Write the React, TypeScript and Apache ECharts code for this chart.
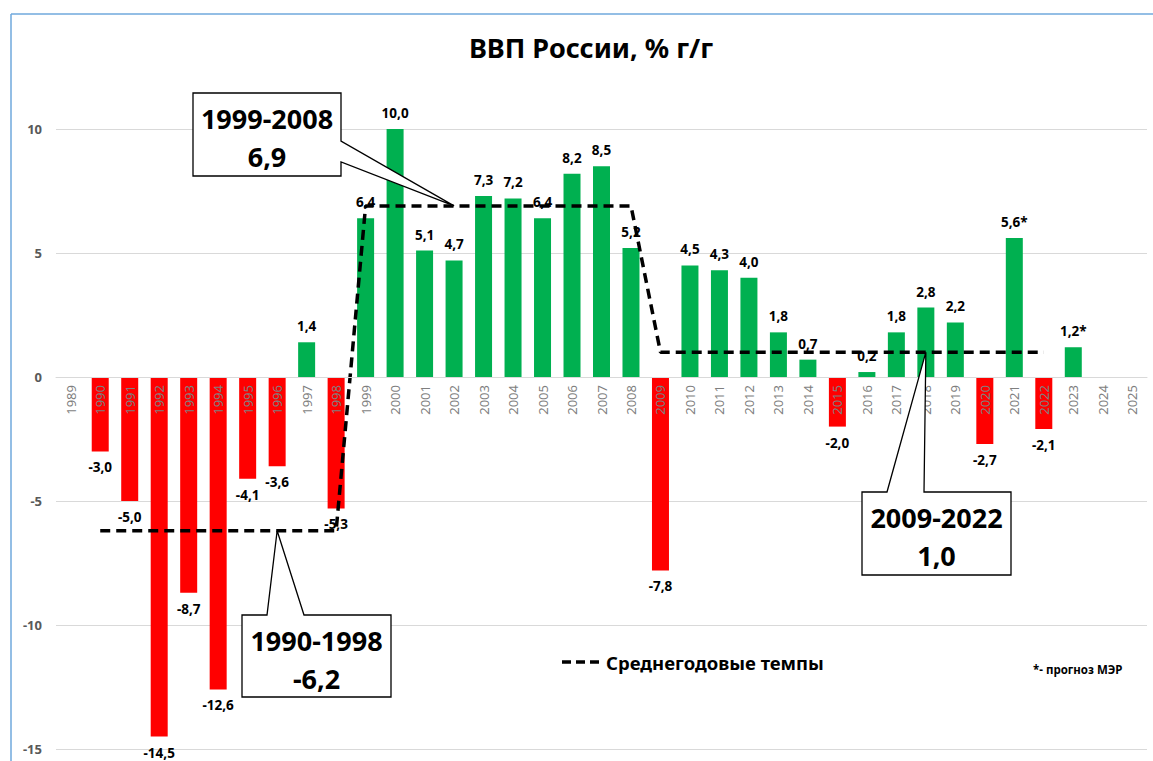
import React, { useEffect, useRef } from "react";
import * as echarts from "echarts";

const years = [
  "1989", "1990", "1991", "1992", "1993", "1994", "1995", "1996", "1997", "1998",
  "1999", "2000", "2001", "2002", "2003", "2004", "2005", "2006", "2007", "2008",
  "2009", "2010", "2011", "2012", "2013", "2014", "2015", "2016", "2017", "2018",
  "2019", "2020", "2021", "2022", "2023", "2024", "2025",
];

const gdpGrowth: (number | null)[] = [
  null, -3.0, -5.0, -14.5, -8.7, -12.6, -4.1, -3.6, 1.4, -5.3,
  6.4, 10.0, 5.1, 4.7, 7.3, 7.2, 6.4, 8.2, 8.5, 5.2,
  -7.8, 4.5, 4.3, 4.0, 1.8, 0.7, -2.0, 0.2, 1.8, 2.8,
  2.2, -2.7, 5.6, -2.1, 1.2, null, null,
];

const averageGrowth: (number | null)[] = [
  null, -6.2, -6.2, -6.2, -6.2, -6.2, -6.2, -6.2, -6.2, -6.2,
  6.9, 6.9, 6.9, 6.9, 6.9, 6.9, 6.9, 6.9, 6.9, 6.9,
  1.0, 1.0, 1.0, 1.0, 1.0, 1.0, 1.0, 1.0, 1.0, 1.0,
  1.0, 1.0, 1.0, 1.0, null, null, null,
];

const forecastYears = ["2021", "2023"];

const calloutPeriods = ["1999-2008", "1990-1998", "2009-2022"];
const calloutValues = ["6,9", "-6,2", "1,0"];
const calloutAnchorYears = ["2002", "1996", "2018"];
const calloutAnchorValues = [6.9, -6.2, 1.0];

const titleText = "ВВП России, % г/г";
const legendText = "Среднегодовые темпы";
const noteText = "*- прогноз МЭР";

const FONT = '"Noto Sans", "DejaVu Sans", sans-serif';
const fmt = (v: number) => v.toFixed(1).replace(".", ",");

const Y_MIN = -15;
const Y_MAX = 15;
const GRID_TOP = 5;
const GRID_BOTTOM = 12;
const CHART_H = 761;

export default function App() {
  const ref = useRef<HTMLDivElement>(null);

  useEffect(() => {
    if (!ref.current) return;
    const chart = echarts.init(ref.current, null, { renderer: "svg" });

    const gridH = CHART_H - GRID_TOP - GRID_BOTTOM;
    const zeroOffset = -((0 - Y_MIN) / (Y_MAX - Y_MIN)) * gridH;

    const barData = gdpGrowth.map((v) =>
      v == null
        ? null
        : {
            value: v,
            itemStyle: { color: v < 0 ? "#ff0000" : "#00b050" },
            label: { position: v < 0 ? "bottom" : "top" },
          }
    );

    chart.setOption({
      animation: false,
      backgroundColor: "#ffffff",
      grid: {
        left: 56,
        right: 6,
        top: GRID_TOP,
        bottom: GRID_BOTTOM,
        containLabel: false,
        outerBoundsMode: "none",
      },
      xAxis: {
        type: "category",
        data: years,
        position: "bottom",
        offset: zeroOffset,
        axisLine: { show: true, onZero: false, lineStyle: { color: "#d9d9d9", width: 1 } },
        axisTick: { show: false },
        axisLabel: {
          rotate: 90,
          interval: 0,
          margin: 8,
          color: "#7f7f7f",
          fontSize: 13,
          fontFamily: FONT,
        },
        splitLine: { show: false },
        z: 5,
      },
      yAxis: {
        type: "value",
        min: Y_MIN,
        max: Y_MAX,
        interval: 5,
        axisLine: { show: false },
        axisTick: { show: false },
        axisLabel: {
          showMaxLabel: false,
          margin: 14,
          color: "#595959",
          fontSize: 13,
          fontWeight: "bold",
          fontFamily: FONT,
        },
        splitLine: {
          show: true,
          showMaxLine: false,
          lineStyle: { color: "#d9d9d9", width: 1 },
        },
      },
      series: [
        {
          type: "bar",
          data: barData,
          barWidth: 17,
          z: 2,
          label: {
            show: true,
            color: "#000",
            fontSize: 13.5,
            fontWeight: "bold",
            fontFamily: FONT,
            distance: 9,
            formatter: (p: any) =>
              fmt(p.value) + (forecastYears.includes(p.name) ? "*" : ""),
          },
        },
        {
          type: "line",
          data: averageGrowth,
          symbol: "none",
          connectNulls: false,
          z: 4,
          lineStyle: { color: "#000", width: 3.5, type: [10, 6] },
        },
      ],
    });

    const boxes = [
      { x: 193, y: 93, w: 148, h: 83, side: "right", a: 48, b: 69 },
      { x: 242, y: 615, w: 149, h: 82, side: "top", a: 25, b: 62 },
      { x: 862, y: 492, w: 149, h: 83, side: "top", a: 25, b: 62 },
    ];

    const graphics: any[] = [];
    boxes.forEach((bx, i) => {
      const tip = chart.convertToPixel({ xAxisIndex: 0, yAxisIndex: 0 }, [
        calloutAnchorYears[i],
        calloutAnchorValues[i],
      ]) as number[];
      let pts: number[][];
      const { x, y, w, h } = bx;
      if (bx.side === "right") {
        pts = [
          [x, y],
          [x + w, y],
          [x + w, y + bx.a],
          [tip[0], tip[1]],
          [x + w, y + bx.b],
          [x + w, y + h],
          [x, y + h],
        ];
      } else {
        pts = [
          [x, y],
          [x + bx.a, y],
          [tip[0], tip[1]],
          [x + bx.b, y],
          [x + w, y],
          [x + w, y + h],
          [x, y + h],
        ];
      }
      graphics.push({
        type: "polygon",
        z: 100,
        shape: { points: pts },
        style: { fill: "#ffffff", stroke: "#000000", lineWidth: 1.3 },
      });
      graphics.push({
        type: "text",
        z: 101,
        x: x + w / 2,
        y: y + 25,
        style: {
          text: calloutPeriods[i],
          fill: "#000",
          fontSize: 27,
          fontWeight: "bold",
          fontFamily: FONT,
          textAlign: "center",
          textVerticalAlign: "middle",
        },
      });
      graphics.push({
        type: "text",
        z: 101,
        x: x + w / 2,
        y: y + 63,
        style: {
          text: calloutValues[i],
          fill: "#000",
          fontSize: 27,
          fontWeight: "bold",
          fontFamily: FONT,
          textAlign: "center",
          textVerticalAlign: "middle",
        },
      });
    });

    graphics.push(
      {
        type: "text",
        z: 101,
        x: 591,
        y: 47,
        style: {
          text: titleText,
          fill: "#000",
          fontSize: 27,
          fontWeight: "bold",
          fontFamily: FONT,
          textAlign: "center",
          textVerticalAlign: "middle",
        },
      },
      {
        type: "line",
        z: 101,
        shape: { x1: 562, y1: 662, x2: 600, y2: 662 },
        style: { stroke: "#000", lineWidth: 3.5, lineDash: [9, 5] },
      },
      {
        type: "text",
        z: 101,
        x: 606,
        y: 662,
        style: {
          text: legendText,
          fill: "#000",
          fontSize: 18.5,
          fontWeight: "bold",
          fontFamily: FONT,
          textAlign: "left",
          textVerticalAlign: "middle",
        },
      },
      {
        type: "text",
        z: 101,
        x: 1033,
        y: 669,
        style: {
          text: noteText,
          fill: "#000",
          fontSize: 11.5,
          fontWeight: "bold",
          fontFamily: FONT,
          textAlign: "left",
          textVerticalAlign: "middle",
        },
      },
      {
        type: "line",
        z: 102,
        shape: { x1: 11, y1: 14, x2: 1153, y2: 14 },
        style: { stroke: "#6fa8dc", lineWidth: 1.5 },
      },
      {
        type: "line",
        z: 102,
        shape: { x1: 11, y1: 14, x2: 11, y2: 761 },
        style: { stroke: "#6fa8dc", lineWidth: 1.5 },
      }
    );

    chart.setOption({ graphic: graphics });

    return () => chart.dispose();
  }, []);

  return (
    <div
      ref={ref}
      style={{ position: "absolute", left: 0, top: 0, width: 1153, height: 761 }}
    />
  );
}
